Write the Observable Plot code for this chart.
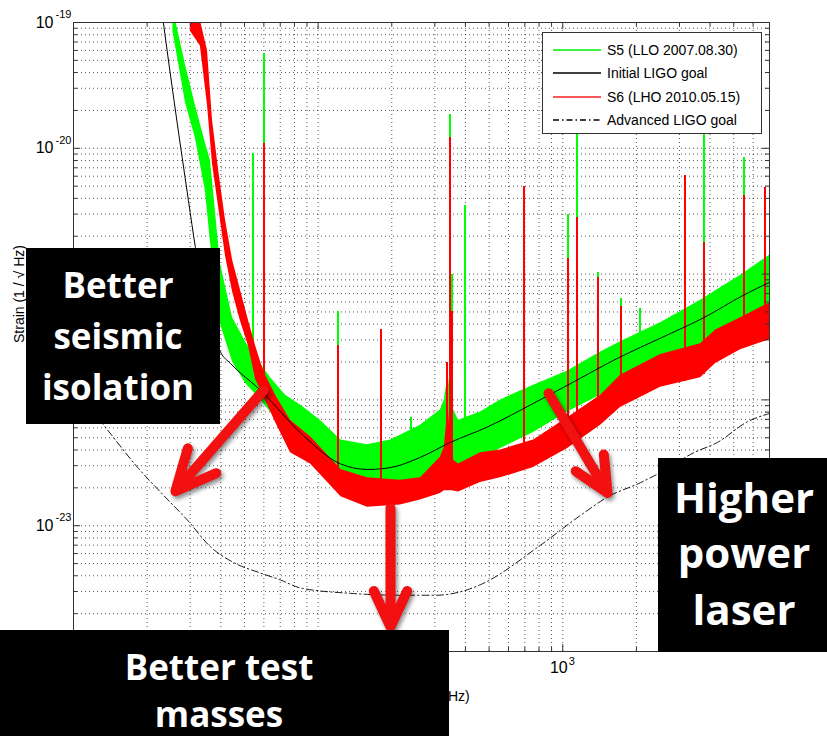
<!DOCTYPE html>
<html><head><meta charset="utf-8">
<script src="https://cdn.jsdelivr.net/npm/d3@7"></script>
<script src="https://cdn.jsdelivr.net/npm/@observablehq/plot@0.6"></script>
<style>
html,body{margin:0;padding:0;background:#fff;}
#wrap{position:relative;width:827px;height:736px;overflow:hidden;}
#wrap svg g[aria-label="arrow"]{filter:drop-shadow(2px 3px 2px rgba(0,0,0,0.45));}
.box{position:absolute;background:#000;color:#fff;font-family:"Open Sans",sans-serif;font-weight:700;}
.box div{position:absolute;text-align:center;white-space:nowrap;}
#legend{position:absolute;left:542px;top:32px;width:218px;height:100px;border:1.5px solid #333;background:#fff;font-family:"Liberation Sans",Arial,sans-serif;font-size:14px;color:#000;}
.row{position:absolute;left:0;height:20px;width:100%;line-height:20px;}
.row svg{position:absolute;left:9px;top:0;}
.row span{position:absolute;left:64px;top:0;}
</style></head>
<body><div id="wrap"></div>
<script>
// ---- S5 (LLO 2007.08.30) noise band, Hz / strain
const s5Freq  = [25.5, 28.7, 31.5, 34.6, 36.3, 39.9, 44.7, 50.5, 57.0, 63.9, 73.6, 84.7, 102, 124, 159, 198, 262, 316, 328, 340, 352, 375, 461, 557, 760, 1047, 1428, 1722, 2512, 3658, 5333, 7000];
const s5Upper = [1.3e-19, 4.6e-20, 2.2e-20, 1.1e-20, 8.0e-21, 1.2e-21, 4.5e-22, 2.9e-22, 2.05e-22, 1.5e-22, 1.09e-22, 9.1e-23, 6.9e-23, 4.8e-23, 4.4e-23, 4.8e-23, 6.3e-23, 8.3e-23, 1.0e-22, 1.6e-22, 9.0e-23, 6.9e-23, 8.0e-23, 1.0e-22, 1.31e-22, 1.7e-22, 2.4e-22, 2.9e-22, 4.1e-22, 6.2e-22, 9.8e-22, 1.41e-21];
const s5Lower = [8.5e-20, 2.3e-20, 1.2e-20, 4.6e-21, 1.8e-21, 4.0e-22, 2.0e-22, 1.35e-22, 1.05e-22, 8.0e-23, 6.0e-23, 4.4e-23, 3.0e-23, 2.3e-23, 2.1e-23, 2.1e-23, 2.2e-23, 2.5e-23, 2.6e-23, 2.8e-23, 2.8e-23, 2.8e-23, 3.4e-23, 4.1e-23, 5.5e-23, 8.0e-23, 1.09e-22, 1.31e-22, 1.7e-22, 2.5e-22, 3.6e-22, 5.0e-22];
const s5SpikeFreq = [54.4, 59.8, 120, 239, 344.5, 352, 397, 692, 1047, 1148, 1387, 1738, 2078, 3767, 5483];
const s5SpikeTop  = [9.1e-21, 5.7e-20, 5.0e-22, 7.3e-23, 1.86e-20, 1.0e-21, 3.5e-21, 2.8e-21, 3.0e-21, 1.31e-20, 1.03e-21, 6.4e-22, 5.3e-22, 1.39e-20, 8.5e-21];
const s5SpikeBase = [1.5e-22, 1.2e-22, 3.0e-23, 3.0e-23, 3.0e-23, 3.0e-23, 3.0e-23, 6.0e-23, 8.0e-23, 9.0e-23, 1.1e-22, 1.3e-22, 1.5e-22, 2.5e-22, 3.6e-22];

// ---- S6 (LHO 2010.05.15) noise band
const s6Freq  = [30.1, 33.0, 35.3, 37.0, 39.2, 41.8, 44.7, 48.2, 51.9, 55.5, 59.8, 67.0, 77.1, 93.1, 124, 159, 217, 262, 316, 328, 340, 352, 375, 461, 557, 760, 1047, 1428, 1722, 2512, 3658, 4217, 5333, 7000];
const s6Upper = [1.24e-19, 1.04e-19, 6.0e-20, 1.67e-20, 6.7e-21, 2.7e-21, 1.29e-21, 7.4e-22, 4.3e-22, 2.7e-22, 1.7e-22, 1.09e-22, 6.9e-23, 5.1e-23, 2.8e-23, 2.4e-23, 2.3e-23, 2.4e-23, 3.5e-23, 4.2e-23, 9.0e-23, 3.4e-23, 3.1e-23, 3.8e-23, 4.0e-23, 4.8e-23, 7.2e-23, 1.09e-22, 1.57e-22, 2.3e-22, 2.8e-22, 3.6e-22, 4.5e-22, 5.9e-22];
const s6Lower = [8.5e-20, 6.5e-20, 2.2e-20, 7.5e-21, 3.4e-21, 1.4e-21, 7.2e-22, 4.2e-22, 2.7e-22, 1.45e-22, 1.08e-22, 6.6e-23, 3.8e-23, 3.1e-23, 1.7e-23, 1.4e-23, 1.46e-23, 1.6e-23, 1.8e-23, 1.9e-23, 1.9e-23, 1.9e-23, 1.85e-23, 2.2e-23, 2.4e-23, 2.9e-23, 4.1e-23, 6.3e-23, 8.7e-23, 1.26e-22, 1.5e-22, 1.95e-22, 2.5e-22, 3.0e-22];
const s6SpikeFreq = [59.8, 120, 180, 335, 344.5, 352, 692, 1047, 1148, 1387, 1738, 3148, 3767, 5483, 6683];
const s6SpikeTop  = [1.09e-20, 2.7e-22, 3.6e-22, 2.0e-22, 1.22e-20, 5.0e-22, 5.0e-21, 1.34e-21, 2.8e-21, 9.4e-22, 5.5e-22, 6.1e-21, 1.79e-21, 4.2e-21, 4.9e-21];
const s6SpikeBase = [1.0e-22, 1.8e-23, 1.5e-23, 2.0e-23, 2.0e-23, 2.0e-23, 3.0e-23, 4.5e-23, 5.0e-23, 6.5e-23, 9.0e-23, 1.4e-22, 1.6e-22, 2.6e-22, 3.0e-22];

// ---- Initial LIGO goal
const initFreq   = [22.4, 23.3, 29.5, 31.5, 39.9, 43.8, 58.2, 87.1, 123.5, 159, 198, 262, 348, 493, 760, 1047, 1722, 2512, 3767, 5483, 7000];
const initStrain = [1.8e-19, 1.0e-19, 3.85e-21, 1.63e-21, 2.4e-22, 1.95e-22, 1.19e-22, 5.2e-23, 3.1e-23, 2.8e-23, 2.9e-23, 3.5e-23, 4.6e-23, 6.1e-23, 9.4e-23, 1.31e-22, 2.2e-22, 3.1e-22, 4.5e-22, 6.8e-22, 8.6e-22];

// ---- Advanced LIGO goal
const advFreq   = [10.7, 13.3, 18.3, 23.3, 29.2, 36.3, 45.1, 58.2, 70.2, 84.7, 135.6, 217, 302, 408, 461, 811, 1183, 1524, 2080, 2466, 3428, 4296, 5689, 7000];
const advStrain = [1.07e-22, 6.3e-23, 2.9e-23, 1.75e-23, 1.11e-23, 6.8e-24, 5.1e-24, 4.2e-24, 3.7e-24, 3.2e-24, 2.9e-24, 2.8e-24, 2.8e-24, 3.1e-24, 3.4e-24, 7.0e-24, 1.21e-23, 1.69e-23, 2.2e-23, 2.6e-23, 3.8e-23, 4.6e-23, 6.7e-23, 7.8e-23];

// ---- axes
const xMajor = [10, 100, 1000];
const xMinor = [20, 30, 40, 50, 60, 70, 80, 90, 200, 300, 400, 500, 600, 700, 800, 900, 2000, 3000, 4000, 5000, 6000];
const yMajorExp = [-24, -23, -22, -21, -20, -19];
const yMantissa = [2, 3, 4, 5, 6, 7, 8, 9];
// tick labels left uncovered by the annotation boxes
const xTickLabelExp = [3];
const yTickLabelExp = [-23, -20, -19];
const xLabel = "Frequency (Hz)";
const yLabel = "Strain (1 / \u221A Hz)";

// ---- legend & annotations
const legendNames = ["S5 (LLO 2007.08.30)", "Initial LIGO goal", "S6 (LHO 2010.05.15)", "Advanced LIGO goal"];
const annotationLines = [["Better", "seismic", "isolation"], ["Better test", "masses"], ["Higher", "power", "laser"]];
const arrowFromF = [59.8, 197.6, 875];
const arrowFromS = [1.19e-22, 1.38e-23, 1.13e-22];
const arrowToF   = [26.1, 197.6, 1524];
const arrowToS   = [1.88e-23, 1.57e-24, 1.82e-23];

// ---- tables
const s5 = s5Freq.map((f, i) => ({f, hi: s5Upper[i], lo: s5Lower[i]}));
const s6 = s6Freq.map((f, i) => ({f, hi: s6Upper[i], lo: s6Lower[i]}));
const s5Sp = s5SpikeFreq.map((f, i) => ({f, top: s5SpikeTop[i], base: s5SpikeBase[i]}));
const s6Sp = s6SpikeFreq.map((f, i) => ({f, top: s6SpikeTop[i], base: s6SpikeBase[i]}));
const init = initFreq.map((f, i) => ({f, h: initStrain[i]}));
const adv = advFreq.map((f, i) => ({f, h: advStrain[i]}));
const yMajor = yMajorExp.map(e => 10 ** e);
const yMinor = yMajorExp.slice(0, -1).flatMap(e => yMantissa.map(m => m * 10 ** e));
const arrows = arrowFromF.map((f, i) => ({f1: f, s1: arrowFromS[i], f2: arrowToF[i], s2: arrowToS[i]}));

const FW = 827 - 73 - 58, FH = 736 - 22 - 85;
const grid = {stroke: "#000", strokeOpacity: 0.65, strokeDasharray: "1,3", strokeWidth: 1};

const chart = Plot.plot({
  width: 827, height: 736,
  marginLeft: 73, marginRight: 58, marginTop: 22, marginBottom: 85,
  x: {type: "log", domain: [10, 7000], axis: null},
  y: {type: "log", domain: [1e-24, 1e-19], axis: null},
  style: {fontFamily: '"Liberation Sans", Arial, sans-serif', background: "#fff", color: "#000", overflow: "visible"},
  marks: [
    Plot.ruleX([...xMajor.slice(1), ...xMinor], grid),
    Plot.ruleY([...yMajor.slice(1, -1), ...yMinor], grid),
    Plot.areaY(s5, {x: "f", y1: "lo", y2: "hi", fill: "#00ff00", clip: true}),
    Plot.ruleX(s5Sp, {x: "f", y1: "base", y2: "top", stroke: "#00ff00", strokeWidth: 2, shapeRendering: "crispEdges", clip: true}),
    Plot.areaY(s6, {x: "f", y1: "lo", y2: "hi", fill: "#ff0000", clip: true}),
    Plot.ruleX(s6Sp, {x: "f", y1: "base", y2: "top", stroke: "#ff0000", strokeWidth: 2, shapeRendering: "crispEdges", clip: true}),
    Plot.line(init, {x: "f", y: "h", stroke: "#000", strokeWidth: 1, curve: "monotone-x", clip: true}),
    Plot.line(adv, {x: "f", y: "h", stroke: "#000", strokeWidth: 0.9, strokeDasharray: "7,3,1.5,3", curve: "monotone-x", clip: true}),
    Plot.frame({stroke: "#333", strokeWidth: 1}),
    // ticks (inward, all four sides)
    Plot.ruleX(xMajor, {insetTop: FH - 7, stroke: "#333"}),
    Plot.ruleX(xMajor, {insetBottom: FH - 7, stroke: "#333"}),
    Plot.ruleX(xMinor, {insetTop: FH - 4, stroke: "#333"}),
    Plot.ruleX(xMinor, {insetBottom: FH - 4, stroke: "#333"}),
    Plot.ruleY(yMajor, {insetRight: FW - 7, stroke: "#333"}),
    Plot.ruleY(yMajor, {insetLeft: FW - 7, stroke: "#333"}),
    Plot.ruleY(yMinor, {insetRight: FW - 4, stroke: "#333"}),
    Plot.ruleY(yMinor, {insetLeft: FW - 4, stroke: "#333"}),
    // tick labels
    Plot.text(yTickLabelExp, {y: d => 10 ** d, frameAnchor: "left", text: () => "10", textAnchor: "end", dx: -20, fontSize: 16}),
    Plot.text(yTickLabelExp, {y: d => 10 ** d, frameAnchor: "left", text: d => String(d), textAnchor: "start", dx: -18, dy: -8, fontSize: 11}),
    Plot.text(xTickLabelExp, {x: d => 10 ** d, frameAnchor: "bottom", text: () => "10", textAnchor: "end", dx: 5, dy: 21, fontSize: 16}),
    Plot.text(xTickLabelExp, {x: d => 10 ** d, frameAnchor: "bottom", text: d => String(d), textAnchor: "start", dx: 6, dy: 13, fontSize: 11}),
    Plot.text([xLabel], {frameAnchor: "bottom", dy: 49, fontSize: 14}),
    Plot.text([yLabel], {frameAnchor: "left", dx: -54, dy: 6, rotate: -90, fontSize: 14}),
    // annotation arrows
    Plot.arrow(arrows, {x1: "f1", y1: "s1", x2: "f2", y2: "s2", stroke: "#f21010", strokeWidth: 10, headAngle: 50, headLength: 8})
  ]
});

const wrap = document.getElementById("wrap");
wrap.appendChild(chart);

// legend
const legendStyles = [
  {stroke: "#00ee00", dash: null},
  {stroke: "#000", dash: null},
  {stroke: "#ff2020", dash: null},
  {stroke: "#000", dash: "6,3,1.5,3"}
];
const rowCenters = [17, 40, 64, 87];
const legend = document.createElement("div");
legend.id = "legend";
legendNames.forEach((name, i) => {
  const row = document.createElement("div");
  row.className = "row";
  row.style.top = (rowCenters[i] - 10) + "px";
  const st = legendStyles[i];
  row.innerHTML = `<svg width="50" height="20"><line x1="1" x2="49" y1="10" y2="10" stroke="${st.stroke}" stroke-width="1.5" ${st.dash ? `stroke-dasharray="${st.dash}"` : ""}/></svg><span></span>`;
  row.querySelector("span").textContent = name;
  legend.appendChild(row);
});
wrap.appendChild(legend);

// annotation boxes (pixel layout)
const boxes = [
  {left: 26, top: 248, width: 194, height: 176, fontSize: 35, baselines: [298, 349, 400], cx: 118},
  {left: 0, top: 630, width: 449, height: 106, fontSize: 35, baselines: [680, 727], cx: 219},
  {left: 658, top: 458, width: 169, height: 194, fontSize: 42, baselines: [513, 568, 625], cx: 744}
];
boxes.forEach((b, i) => {
  const d = document.createElement("div");
  d.className = "box";
  Object.assign(d.style, {left: b.left + "px", top: b.top + "px", width: b.width + "px", height: b.height + "px"});
  annotationLines[i].forEach((line, j) => {
    const l = document.createElement("div");
    const fs = b.fontSize;
    Object.assign(l.style, {
      fontSize: fs + "px", lineHeight: fs + "px", height: fs + "px",
      top: (b.baselines[j] - 0.888 * fs - b.top) + "px",
      left: (b.cx - b.left - 150) + "px", width: "300px"
    });
    l.textContent = line;
    d.appendChild(l);
  });
  wrap.appendChild(d);
});
</script></body></html>
